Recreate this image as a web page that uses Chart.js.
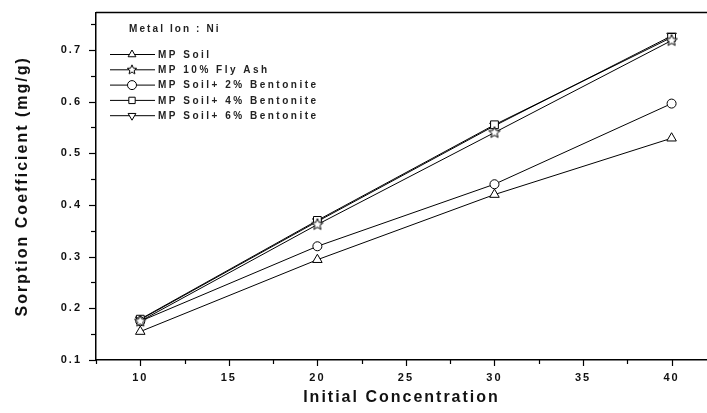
<!DOCTYPE html>
<html><head><meta charset="utf-8">
<script src="https://cdn.jsdelivr.net/npm/chart.js@4.4.1/dist/chart.umd.min.js"></script>
<style>html,body{margin:0;padding:0;background:#fff}canvas{display:block}</style>
</head><body>
<canvas id="c" width="707" height="413"></canvas>
<script>
const concentrations = [10, 20, 30, 40];
const seriesNames = ["MP Soil", "MP 10% Fly Ash", "MP Soil+ 2% Bentonite", "MP Soil+ 4% Bentonite", "MP Soil+ 6% Bentonite"];
const mpSoil = [0.155, 0.294, 0.42, 0.529];
const flyAsh10 = [0.175, 0.362, 0.54, 0.718];
const bentonite2 = [0.175, 0.32, 0.44, 0.596];
const bentonite4 = [0.179, 0.37, 0.555, 0.724];
const bentonite6 = [0.178, 0.368, 0.553, 0.727];
const xTickValues = [10, 15, 20, 25, 30, 35, 40];
const yTickValues = [0.1, 0.2, 0.3, 0.4, 0.5, 0.6, 0.7];
const legendTitle = "Metal Ion : Ni";
const xTitle = "Initial Concentration";
const yTitle = "Sorption Coefficient (mg/g)";

function makeStar(r) {
  const s = Math.ceil(2 * r + 4);
  const cv = document.createElement('canvas');
  cv.width = s; cv.height = s;
  const g = cv.getContext('2d');
  const cx = s / 2, cy = s / 2;
  g.beginPath();
  for (let i = 0; i < 10; i++) {
    const rad = i % 2 === 0 ? r : r * 0.45;
    const a = -Math.PI / 2 + i * Math.PI / 5;
    const px = cx + rad * Math.cos(a), py = cy + rad * Math.sin(a);
    if (i === 0) g.moveTo(px, py); else g.lineTo(px, py);
  }
  g.closePath();
  g.fillStyle = '#fff'; g.fill();
  g.strokeStyle = '#000'; g.lineWidth = 1; g.stroke();
  return cv;
}
const starBig = makeStar(6);
const starSmall = makeStar(5);

const styles = [
  {pointStyle: 'triangle', rotation: 0, radius: 5.5},
  {pointStyle: starBig, rotation: 0, radius: 6},
  {pointStyle: 'circle', rotation: 0, radius: 4.5},
  {pointStyle: 'rect', rotation: 0, radius: 5.5},
  {pointStyle: 'triangle', rotation: 180, radius: 5.5}
];
const seriesValues = [mpSoil, flyAsh10, bentonite2, bentonite4, bentonite6];

const datasets = seriesValues.map((vals, i) => ({
  label: seriesNames[i],
  data: concentrations.map((x, j) => ({x: x, y: vals[j]})),
  borderColor: '#000',
  borderWidth: 1,
  backgroundColor: '#fff',
  pointStyle: styles[i].pointStyle,
  pointRotation: styles[i].rotation,
  pointRadius: styles[i].radius,
  pointBorderWidth: 1,
  pointBorderColor: '#000',
  pointBackgroundColor: '#fff',
  tension: 0
}));

const spacing = {
  id: 'spacing',
  beforeInit(chart) { chart.ctx.letterSpacing = '2px'; },
  beforeLayout(chart) { chart.ctx.letterSpacing = '2px'; },
  beforeDraw(chart) { chart.ctx.letterSpacing = '2px'; }
};

const decor = {
  id: 'decor',
  afterDraw(chart) {
    const ctx = chart.ctx, a = chart.chartArea;
    const xs = chart.scales.x, ys = chart.scales.y;
    ctx.save();
    ctx.strokeStyle = '#000';
    ctx.lineWidth = 1.5;
    ctx.beginPath(); ctx.moveTo(a.left, a.top); ctx.lineTo(a.right, a.top); ctx.stroke();
    ctx.lineWidth = 1.2;
    for (let v = xs.min; v <= xs.max + 1e-9; v += 2.5) {
      const px = Math.round(xs.getPixelForValue(v)) + 0.5;
      const major = Math.abs(v / 5 - Math.round(v / 5)) < 1e-6;
      ctx.beginPath(); ctx.moveTo(px, a.bottom); ctx.lineTo(px, a.bottom + (major ? 6 : 4)); ctx.stroke();
    }
    for (let k = 0; ; k++) {
      const v = 0.1 + k * 0.05;
      if (v > ys.max + 1e-9) break;
      const py = Math.round(ys.getPixelForValue(v)) + 0.5;
      const major = k % 2 === 0;
      ctx.beginPath(); ctx.moveTo(a.left, py); ctx.lineTo(a.left - (major ? 7 : 5), py); ctx.stroke();
    }
    ctx.fillStyle = '#222';
    ctx.font = 'bold 10px "Liberation Sans", Arial, sans-serif';
    ctx.letterSpacing = '2.1px';
    ctx.textBaseline = 'middle';
    ctx.textAlign = 'left';
    ctx.fillText(legendTitle, 129, 29);
    ctx.letterSpacing = '2.5px';
    chart.data.datasets.forEach((ds, i) => {
      const y = 54 + i * 15.3;
      ctx.strokeStyle = '#000'; ctx.lineWidth = 1;
      ctx.beginPath(); ctx.moveTo(110, y + 0.5); ctx.lineTo(155, y + 0.5); ctx.stroke();
      const ps = i === 1 ? starSmall : styles[i].pointStyle;
      ctx.fillStyle = '#fff';
      Chart.helpers.drawPoint(ctx, {pointStyle: ps, rotation: styles[i].rotation, radius: 4.5, borderWidth: 1}, 132, y + 0.5);
      ctx.fillStyle = '#222';
      ctx.fillText(ds.label, 158, y + 1);
    });
    ctx.restore();
  }
};

const fam = '"Liberation Sans", Arial, sans-serif';
new Chart(document.getElementById('c'), {
  type: 'line',
  data: {datasets},
  plugins: [spacing, decor],
  options: {
    responsive: false,
    animation: false,
    layout: {autoPadding: false, padding: {top: 12, left: 0, right: 0, bottom: 0}},
    plugins: {legend: {display: false}, tooltip: {enabled: false}},
    scales: {
      x: {
        type: 'linear', min: 7.5, max: 42,
        afterBuildTicks: s => { s.ticks = xTickValues.map(v => ({value: v})); },
        afterFit: s => { s.height = 53; },
        grid: {display: false},
        border: {display: true, color: '#000', width: 1.5},
        ticks: {color: '#111', font: {family: fam, weight: 'bold', size: 11}, padding: 3, maxRotation: 0},
        title: {display: true, text: xTitle, color: '#111', font: {family: fam, weight: 'bold', size: 16}, padding: {top: 2, bottom: 6}}
      },
      y: {
        type: 'linear', min: 0.1, max: 0.772,
        afterBuildTicks: s => { s.ticks = yTickValues.map(v => ({value: v})); },
        afterFit: s => { s.width = 96; },
        grid: {display: false},
        border: {display: true, color: '#000', width: 1.5},
        ticks: {color: '#111', font: {family: fam, weight: 'bold', size: 11}, padding: 6, callback: v => v.toFixed(1)},
        title: {display: true, text: yTitle, color: '#111', font: {family: fam, weight: 'bold', size: 16}, padding: {top: 13, bottom: 4}}
      }
    }
  }
});
</script>
</body></html>
